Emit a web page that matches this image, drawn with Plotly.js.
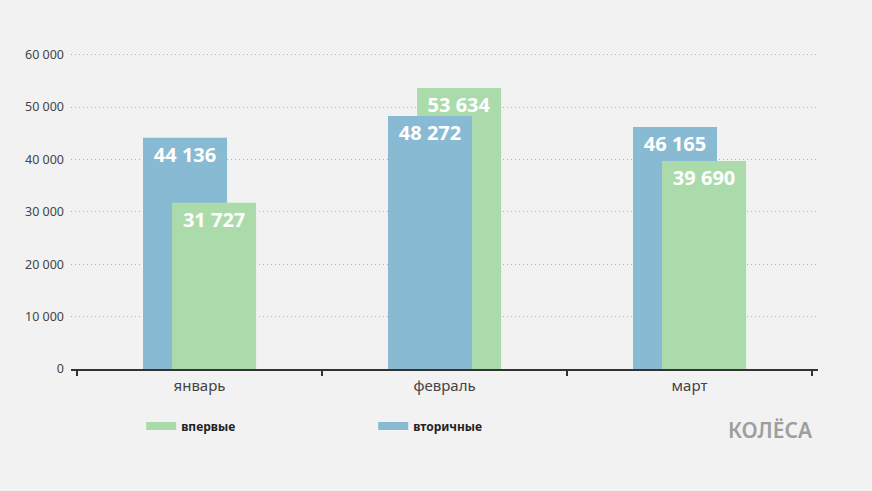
<!DOCTYPE html>
<html>
<head>
<meta charset="utf-8">
<script src="https://cdn.plot.ly/plotly-3.0.1.min.js"></script>
<style>html,body{margin:0;padding:0;background:#f2f2f2;}#chart{width:872px;height:491px;}</style>
</head>
<body>
<div id="chart"></div>
<script>
const months = ['январь', 'февраль', 'март'];
const firstTime = [31727, 53634, 39690];   // впервые
const secondary = [44136, 48272, 46165];   // вторичные
const seriesNames = ['впервые', 'вторичные'];
const yTicks = [0, 10000, 20000, 30000, 40000, 50000, 60000];

const BLUE = '#88bbd3';
const GREEN = '#acdbab';
const W = 0.343;

const labelFont = {family: 'Noto Sans', size: 20, color: '#ffffff', weight: 'bold'};

// blue drawn behind; shorter bar is drawn in front
const blueBackText = secondary.map((v, i) => v >= firstTime[i] ? '%{y:,}' : '');
const blueFront = secondary.map((v, i) => v < firstTime[i] ? v : null);

const common = {
  type: 'bar', width: W, textposition: 'inside', insidetextanchor: 'end',
  constraintext: 'none', insidetextfont: labelFont, textangle: 0,
  hoverinfo: 'skip', showlegend: false, cliponaxis: false
};

const traces = [
  Object.assign({}, common, {x: months, y: secondary, offset: -0.2306, marker: {color: BLUE, line: {width: 0}}, texttemplate: blueBackText}),
  Object.assign({}, common, {x: months, y: firstTime, offset: -0.112, marker: {color: GREEN, line: {width: 0}}, texttemplate: '%{y:,}'}),
  Object.assign({}, common, {x: months, y: blueFront, offset: -0.2306, marker: {color: BLUE, line: {width: 0}}, texttemplate: '%{y:,}'}),
  {type: 'scatter', mode: 'lines', x: [null], y: [null], name: seriesNames[0], line: {color: GREEN, width: 8}, showlegend: true, hoverinfo: 'skip'},
  {type: 'scatter', mode: 'lines', x: [null], y: [null], name: seriesNames[1], line: {color: BLUE, width: 8}, showlegend: true, hoverinfo: 'skip'}
];

const layout = {
  width: 872, height: 491,
  paper_bgcolor: '#f2f2f2', plot_bgcolor: '#f2f2f2',
  margin: {l: 71, r: 54, t: 52, b: 122},
  separators: '. ',
  barmode: 'overlay',
  font: {family: 'Noto Sans', color: '#444'},
  xaxis: {
    type: 'category', range: [-0.5245, 2.5245],
    showline: true, linecolor: '#333', linewidth: 2,
    ticks: 'outside', tickson: 'boundaries', ticklen: 5, tickwidth: 2, tickcolor: '#333',
    showgrid: false, zeroline: false,
    ticklabelstandoff: 2,
    tickfont: {family: 'Noto Sans', size: 15, color: '#444'}
  },
  yaxis: {
    range: [0, 60500], tickvals: yTicks, tickformat: ',',
    showgrid: true, gridcolor: '#b0b0b0', griddash: '1px,3px', gridwidth: 1,
    zeroline: false, showline: false, ticks: '',
    ticklabelstandoff: 6,
    tickfont: {family: 'Noto Sans', size: 12.5, color: '#444'}
  },
  legend: {
    orientation: 'h', x: 0.094, xanchor: 'left', y: -0.18, yanchor: 'middle',
    entrywidth: 187, entrywidthmode: 'pixels', bgcolor: 'rgba(0,0,0,0)',
    font: {family: 'Noto Sans', size: 12, color: '#222', weight: 'bold'}
  },
  annotations: [{
    xref: 'paper', yref: 'paper', x: 0.937, y: -0.192, xanchor: 'center', yanchor: 'middle',
    text: 'КОЛЁСА', showarrow: false,
    font: {family: 'Noto Sans', size: 21, color: '#9e9e9e', weight: 600}
  }]
};

Plotly.newPlot('chart', traces, layout, {displayModeBar: false, staticPlot: true});
</script>
</body>
</html>
